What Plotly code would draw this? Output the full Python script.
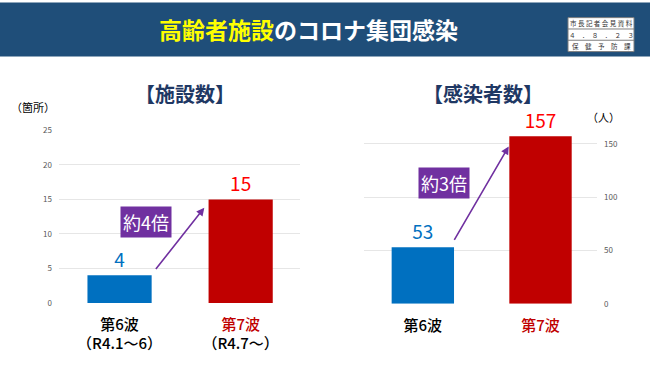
import plotly.graph_objects as go

# ---- data ----
waves = ["第6波", "第7波"]
facility_counts = [4, 15]
infected_counts = [53, 157]
left_ticktext = ["第6波<br>（R4.1～6）", "<span style='color:#C00000'>第7波</span><br>（R4.7～）"]
right_ticktext = ["第6波", "<span style='color:#C00000'>第7波</span>"]
left_yticks = [0, 5, 10, 15, 20, 25]
right_yticks = [0, 50, 100, 150]
ratio_left = "約4倍"
ratio_right = "約3倍"

W, H = 650, 365
FONT = "Noto Sans CJK JP"
BAR_COLORS = ["#0070C0", "#C00000"]
LABEL_COLORS = ["#0070C0", "#FF0000"]
PURPLE = "#7030A0"
NAVY = "#1F3864"


def px(x):
    return x / W


def py(y):
    return 1 - y / H


fig = go.Figure()
fig.add_trace(go.Bar(
    x=[0, 1], y=facility_counts, xaxis="x", yaxis="y",
    marker=dict(color=BAR_COLORS, line=dict(width=0)),
    width=0.53,
    text=[str(v) for v in facility_counts], textposition="outside",
    textfont=dict(size=19, color=LABEL_COLORS, family=FONT),
    cliponaxis=False, hoverinfo="skip",
))
fig.add_trace(go.Bar(
    x=[0, 1], y=infected_counts, xaxis="x2", yaxis="y2",
    marker=dict(color=BAR_COLORS, line=dict(width=0)),
    width=0.53,
    text=[str(v) for v in infected_counts], textposition="outside",
    textfont=dict(size=19, color=LABEL_COLORS, family=FONT),
    cliponaxis=False, hoverinfo="skip",
))

tickfont_small = dict(size=8, color="#595959", family=FONT)
catfont = dict(size=15, color="#000000", family=FONT, weight=500)

fig.update_layout(
    width=W, height=H,
    margin=dict(l=0, r=0, t=0, b=0),
    paper_bgcolor="white", plot_bgcolor="white",
    showlegend=False,
    font=dict(family=FONT),
    xaxis=dict(domain=[px(59), px(300)], range=[-0.5, 1.49],
               tickvals=[0, 1], ticktext=left_ticktext, tickfont=catfont,
               showgrid=False, zeroline=False, showline=False, ticks="",
               ticklabelstandoff=11, anchor="y"),
    yaxis=dict(domain=[py(306.2), py(128.3)], range=[0, 25],
               tickvals=left_yticks, tickfont=tickfont_small,
               showgrid=True, gridcolor="#E6E6E6", gridwidth=1,
               zeroline=False, showline=False, ticks="",
               ticklabelstandoff=6, anchor="x"),
    xaxis2=dict(domain=[px(364), px(597)], range=[-0.5, 1.48],
                tickvals=[0, 1], ticktext=right_ticktext, tickfont=catfont,
                showgrid=False, zeroline=False, showline=False, ticks="",
                ticklabelstandoff=11, anchor="y2"),
    yaxis2=dict(domain=[py(307), py(307 - 160 * 1.1)], range=[0, 160],
                tickvals=right_yticks, tickfont=tickfont_small, side="right",
                showgrid=True, gridcolor="#E6E6E6", gridwidth=1,
                zeroline=False, showline=False, ticks="",
                ticklabelstandoff=6, anchor="x2"),
)

shapes = [
    # header band
    dict(type="rect", xref="paper", yref="paper", x0=0, x1=1, y0=py(52), y1=1.01,
         fillcolor="#1F4E79", line=dict(width=0), layer="below"),
    # stamp box
    dict(type="rect", xref="paper", yref="paper", x0=px(568), x1=px(634), y0=py(47), y1=py(12),
         fillcolor="white", line=dict(color="#7F7F7F", width=1)),
    dict(type="line", xref="paper", yref="paper", x0=px(568), x1=px(634), y0=py(23.7), y1=py(23.7),
         line=dict(color="#7F7F7F", width=1)),
    dict(type="line", xref="paper", yref="paper", x0=px(568), x1=px(634), y0=py(35.3), y1=py(35.3),
         line=dict(color="#7F7F7F", width=1)),
]
fig.update_layout(shapes=shapes)

ann = []
# header title
ann.append(dict(xref="paper", yref="paper", x=px(308), y=py(24), showarrow=False,
                xanchor="center", yanchor="middle",
                text="<b><span style='color:#FFFF00'>高齢者施設</span><span style='color:#FFFFFF'>のコロナ集団感染</span></b>",
                font=dict(size=23, family=FONT)))
# stamp text
for txt, yy in [("市 長 記 者 会 見 資 料", 18), ("４　．　８　．　２　３", 29.5), ("保　健　予　防　課", 41)]:
    ann.append(dict(xref="paper", yref="paper", x=px(601), y=py(yy), showarrow=False,
                    xanchor="center", yanchor="middle", text=txt,
                    font=dict(size=6.5, color="#333333", family=FONT)))
# chart titles
ann.append(dict(xref="paper", yref="paper", x=px(185), y=py(90), showarrow=False,
                xanchor="center", yanchor="middle", text="<b>【施設数】</b>",
                font=dict(size=20, color=NAVY, family=FONT)))
ann.append(dict(xref="paper", yref="paper", x=px(483), y=py(90), showarrow=False,
                xanchor="center", yanchor="middle", text="<b>【感染者数】</b>",
                font=dict(size=20, color=NAVY, family=FONT)))
# units
ann.append(dict(xref="paper", yref="paper", x=px(33), y=py(104), showarrow=False,
                xanchor="center", yanchor="middle", text="（箇所）",
                font=dict(size=11, color="#000000", family=FONT)))
ann.append(dict(xref="paper", yref="paper", x=px(603), y=py(114), showarrow=False,
                xanchor="center", yanchor="middle", text="（人）",
                font=dict(size=11, color="#000000", family=FONT)))
# arrows
ann.append(dict(xref="x", yref="y", axref="x", ayref="y",
                x=0.70, y=13.8, ax=0.29, ay=4.7, text="", showarrow=True,
                arrowhead=2, arrowsize=1, arrowwidth=1.6, arrowcolor=PURPLE, standoff=0))
ann.append(dict(xref="x2", yref="y2", axref="x2", ayref="y2",
                x=0.73, y=147.5, ax=0.26, ay=58.5, text="", showarrow=True,
                arrowhead=2, arrowsize=1, arrowwidth=1.6, arrowcolor=PURPLE, standoff=0))
# ratio boxes
ann.append(dict(xref="x", yref="y", x=0.22, y=11.76, showarrow=False,
                xanchor="center", yanchor="middle", text=ratio_left,
                bgcolor=PURPLE, borderpad=2,
                font=dict(size=18, color="white", family=FONT)))
ann.append(dict(xref="x2", yref="y2", x=0.18, y=113, showarrow=False,
                xanchor="center", yanchor="middle", text=ratio_right,
                bgcolor=PURPLE, borderpad=2,
                font=dict(size=18, color="white", family=FONT)))
fig.update_layout(annotations=ann)

fig.write_html(
    "out.html",
    config={"displayModeBar": False, "responsive": False},
    post_script=(
        "document.documentElement.style.margin='0';"
        "document.documentElement.style.padding='0';"
        "document.body.style.margin='0';document.body.style.padding='0';"
        "document.body.style.overflow='hidden';"
        "var gd=document.getElementById('{plot_id}');"
        "gd.style.position='fixed';gd.style.top='0px';gd.style.left='0px';"
    ),
)
